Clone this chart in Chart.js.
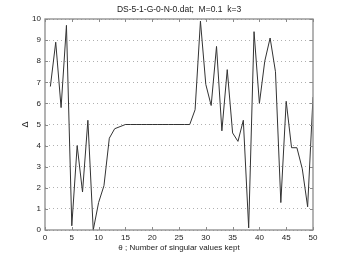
<!DOCTYPE html>
<html>
<head>
<meta charset="utf-8">
<script src="https://cdn.jsdelivr.net/npm/chart.js@4/dist/chart.umd.min.js"></script>
<style>
  html, body { margin: 0; padding: 0; background: #fff; }
  #wrap { width: 346px; height: 260px; }
</style>
</head>
<body>
<div id="wrap"><canvas id="deltaChart" width="346" height="260"></canvas></div>
<script>
// theta = number of singular values kept, delta
const thetaValues = [1, 2, 3, 4, 5, 6, 7, 8, 9, 10,
    11, 12, 13, 14, 15, 16, 17, 18, 19, 20,
    21, 22, 23, 24, 25, 26, 27, 28, 29, 30,
    31, 32, 33, 34, 35, 36, 37, 38, 39, 40,
    41, 42, 43, 44, 45, 46, 47, 48, 49, 50];
const deltaValues = [6.8, 8.9, 5.8, 9.7, 0.2, 4.0, 1.8, 5.2, 0.0, 1.3,
    2.1, 4.35, 4.8, 4.9, 5.0, 5.0, 5.0, 5.0, 5.0, 5.0,
    5.0, 5.0, 5.0, 5.0, 5.0, 5.0, 5.0, 5.7, 9.9, 6.9,
    5.9, 8.7, 4.7, 7.6, 4.6, 4.2, 5.2, 0.1, 9.4, 6.0,
    8.0, 9.1, 7.5, 1.3, 6.1, 3.9, 3.9, 2.9, 1.1, 6.3];
const xTicks = [0, 5, 10, 15, 20, 25, 30, 35, 40, 45, 50];
const yTicks = [0, 1, 2, 3, 4, 5, 6, 7, 8, 9, 10];

const chartTitle = 'DS-5-1-G-0-N-0.dat;  M=0.1  k=3';
const xLabel = 'θ ; Number of singular values kept';
const yLabel = 'Δ';

const fontFam = '"Liberation Sans", Arial, sans-serif';
const txtFont = { family: fontFam, size: 8 };

// matlab style box with inward ticks, title centred over the axes
const boxPlugin = {
    id: 'box',
    afterDraw(chart) {
        const ctx = chart.ctx;
        const a = chart.chartArea;
        const xs = chart.scales.x, ys = chart.scales.y;
        ctx.save();
        ctx.strokeStyle = '#8a8a8a';
        ctx.lineWidth = 1.3;
        ctx.strokeRect(a.left, a.top, a.right - a.left, a.bottom - a.top);
        ctx.lineWidth = 1;
        ctx.beginPath();
        xTicks.forEach(t => {
            const px = Math.round(xs.getPixelForValue(t)) + 0.5;
            ctx.moveTo(px, a.top); ctx.lineTo(px, a.top + 3);
            ctx.moveTo(px, a.bottom); ctx.lineTo(px, a.bottom - 3);
        });
        yTicks.forEach(t => {
            const py = Math.round(ys.getPixelForValue(t)) + 0.5;
            ctx.moveTo(a.left, py); ctx.lineTo(a.left + 3, py);
            ctx.moveTo(a.right, py); ctx.lineTo(a.right - 3, py);
        });
        ctx.stroke();

        ctx.fillStyle = '#222';
        ctx.font = '8.5px ' + fontFam;
        ctx.textAlign = 'center';
        ctx.textBaseline = 'middle';
        ctx.fillText(chartTitle, (a.left + a.right) / 2, 10);
        ctx.restore();
    }
};

const ctx = document.getElementById('deltaChart').getContext('2d');
new Chart(ctx, {
    type: 'line',
    data: {
        datasets: [{
            data: thetaValues.map((t, i) => ({ x: t, y: deltaValues[i] })),
            borderColor: '#333333',
            borderWidth: 1,
            pointRadius: 0,
            tension: 0,
            fill: false,
        }],
    },
    options: {
        responsive: false,
        animation: false,
        layout: { padding: { left: 0, right: 33, top: 19, bottom: 0 } },
        plugins: {
            legend: { display: false },
            tooltip: { enabled: false },
            title: { display: false },
        },
        scales: {
            x: {
                type: 'linear',
                min: 0,
                max: 50,
                afterFit: (s) => { s.height = 30; },
                afterBuildTicks: (s) => { s.ticks = xTicks.map(v => ({ value: v })); },
                grid: { display: false, drawTicks: false },
                border: { display: false },
                ticks: { color: '#222', font: txtFont, padding: 3, maxRotation: 0 },
                title: {
                    display: true,
                    text: xLabel,
                    color: '#222',
                    font: txtFont,
                    padding: { top: 0, bottom: 7 },
                },
            },
            y: {
                min: 0,
                max: 10,
                afterFit: (s) => { s.width = 45; },
                afterBuildTicks: (s) => { s.ticks = yTicks.map(v => ({ value: v })); },
                grid: { color: '#b0b0b0', lineWidth: 1, drawTicks: false },
                border: { display: false, dash: [1, 3] },
                ticks: { color: '#222', font: txtFont, padding: 4 },
                title: {
                    display: true,
                    text: yLabel,
                    color: '#222',
                    font: { family: fontFam, size: 9 },
                    padding: { top: 20, bottom: 0 },
                },
            },
        },
    },
    plugins: [boxPlugin],
});
</script>
</body>
</html>
